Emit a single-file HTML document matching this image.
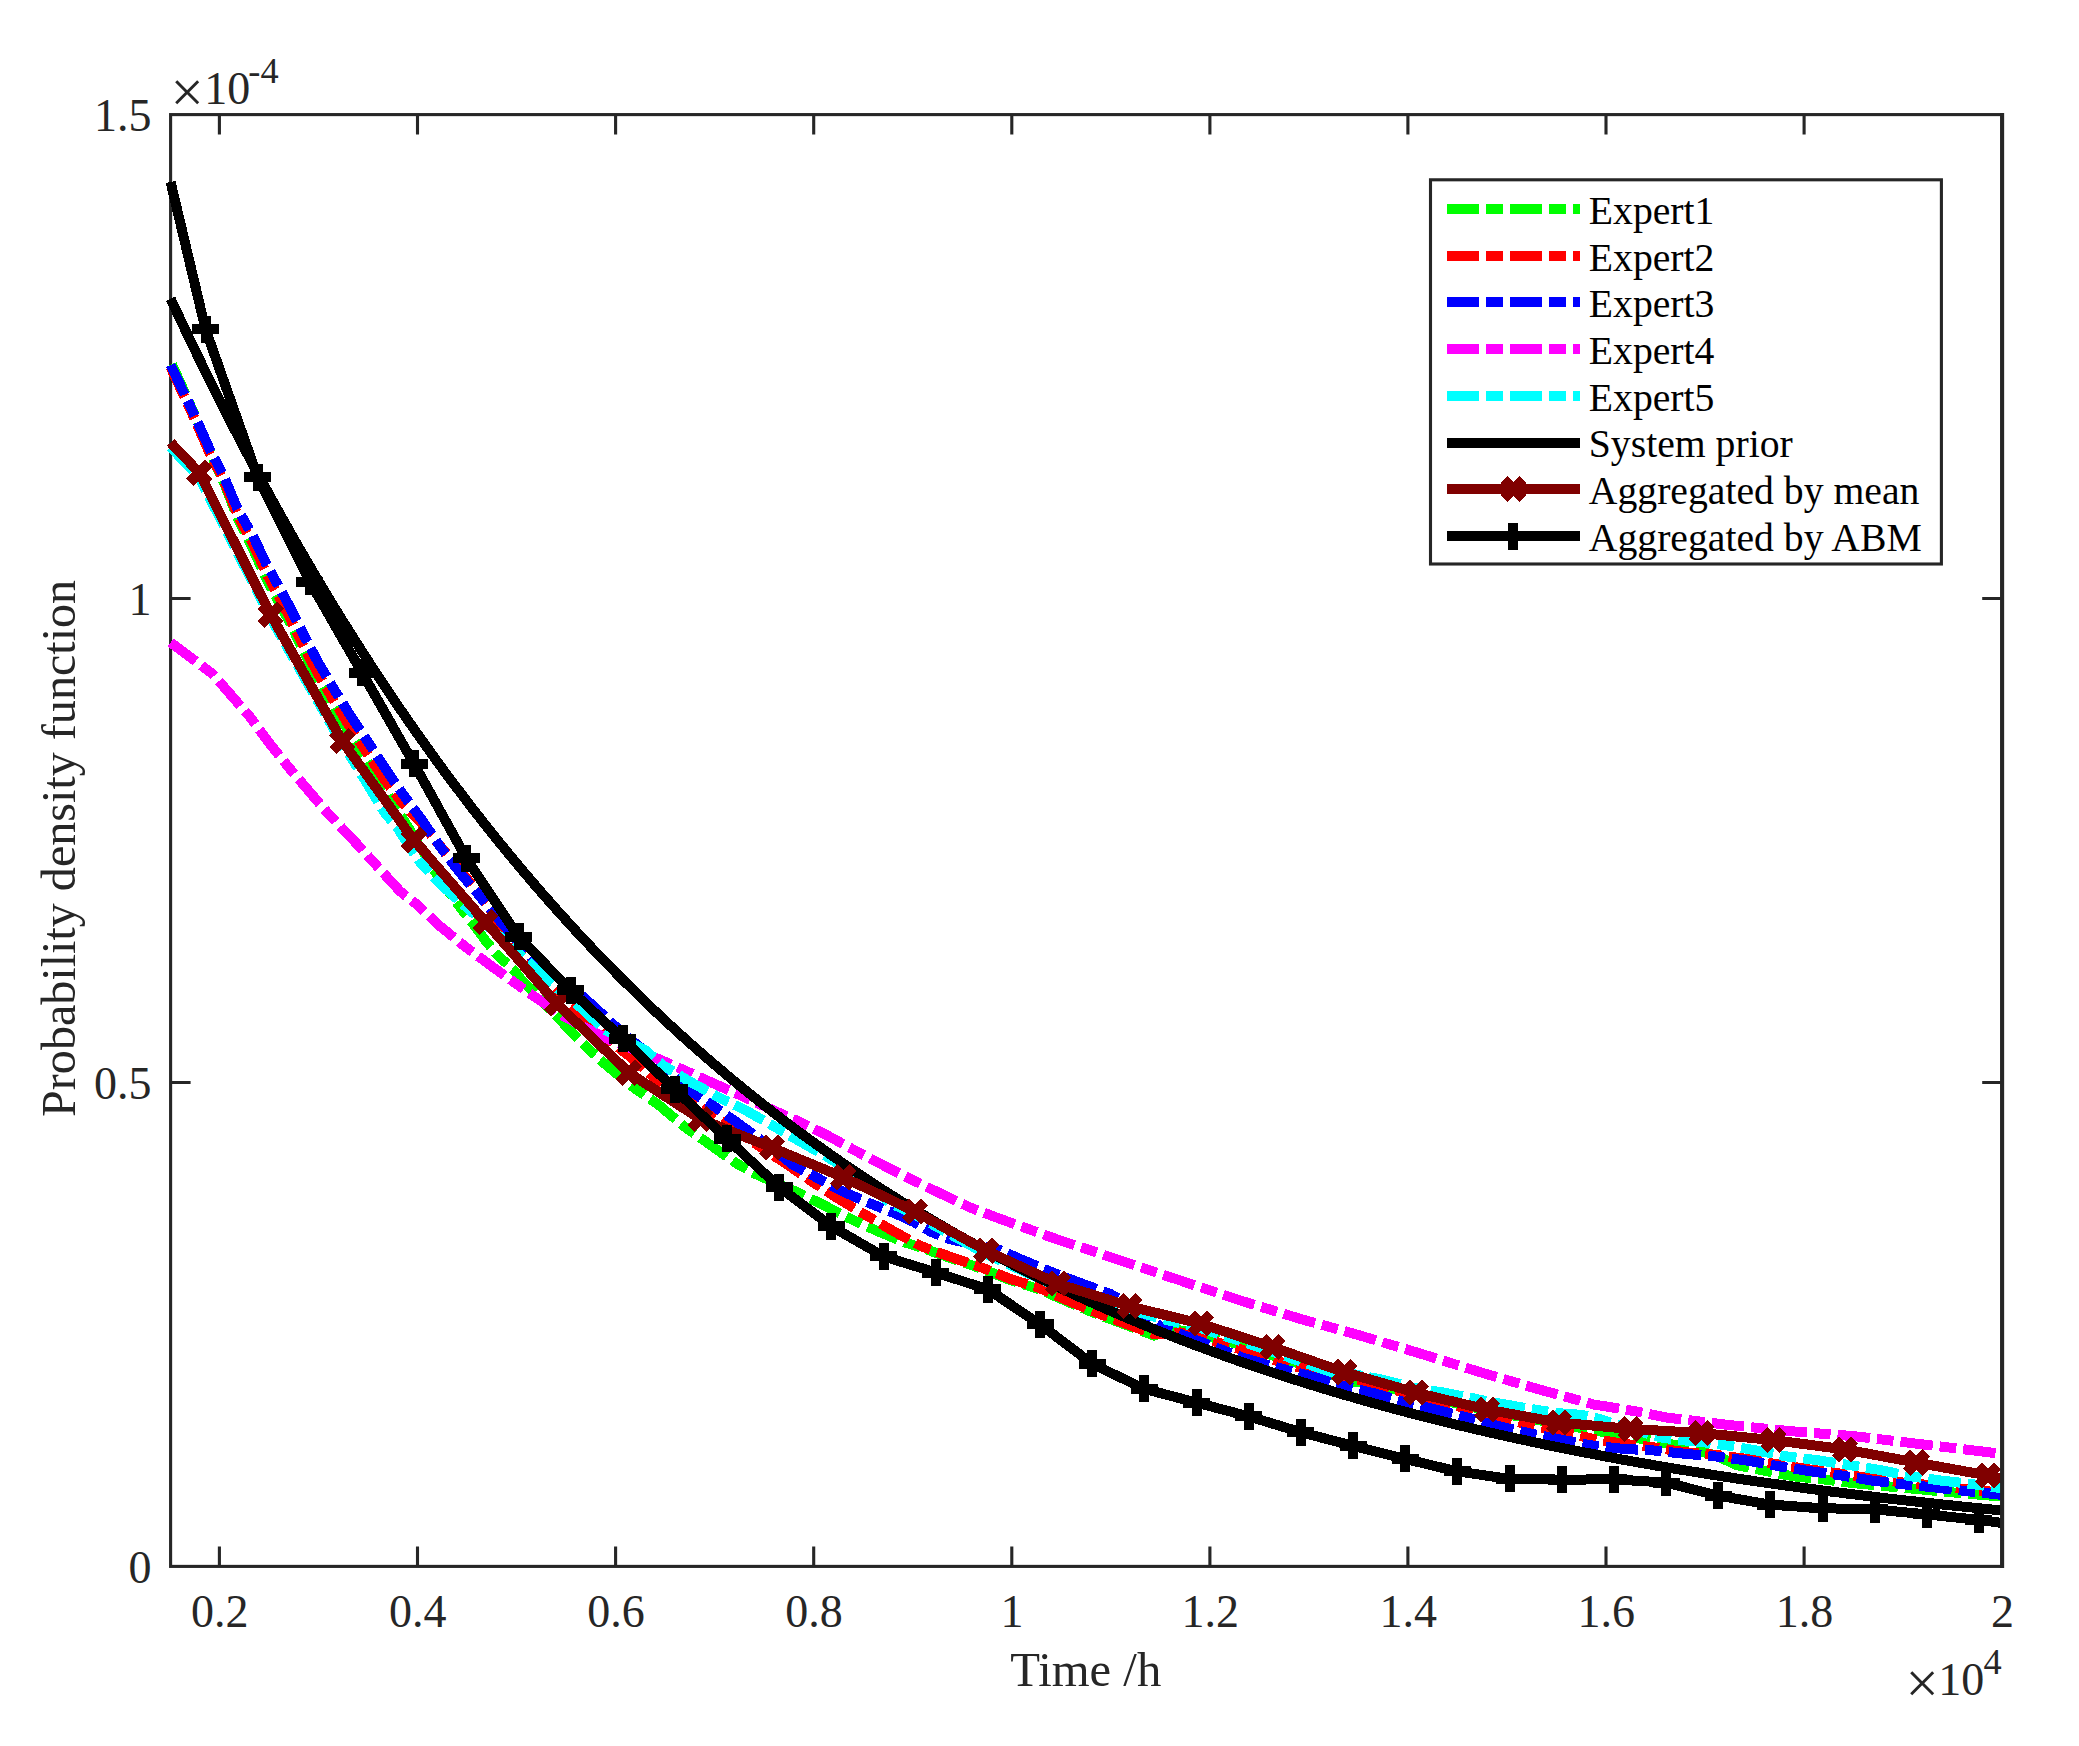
<!DOCTYPE html>
<html lang="en"><head><meta charset="utf-8"><title>Probability density function</title>
<style>html,body{margin:0;padding:0;background:#fff}svg{display:block}text{font-family:"Liberation Serif","Times New Roman",serif;fill:#262626}</style>
</head><body>
<svg width="2079" height="1746" viewBox="0 0 2079 1746">
<rect x="0" y="0" width="2079" height="1746" fill="#fff"/>
<g stroke="#262626" stroke-width="3.10" fill="none" stroke-linecap="butt">
<rect x="170.6" y="114.6" width="1831.6" height="1451.8"/>
<path d="M219.4 1566.4V1546.4M219.4 114.6V134.6"/>
<path d="M417.5 1566.4V1546.4M417.5 114.6V134.6"/>
<path d="M615.6 1566.4V1546.4M615.6 114.6V134.6"/>
<path d="M813.7 1566.4V1546.4M813.7 114.6V134.6"/>
<path d="M1011.8 1566.4V1546.4M1011.8 114.6V134.6"/>
<path d="M1209.9 1566.4V1546.4M1209.9 114.6V134.6"/>
<path d="M1407.9 1566.4V1546.4M1407.9 114.6V134.6"/>
<path d="M1606.0 1566.4V1546.4M1606.0 114.6V134.6"/>
<path d="M1804.1 1566.4V1546.4M1804.1 114.6V134.6"/>
<path d="M170.6 1082.5H190.6M2002.2 1082.5H1982.2"/>
<path d="M170.6 598.5H190.6M2002.2 598.5H1982.2"/>
</g>
<g shape-rendering="crispEdges">
<path d="M170.6 361.5L183.8 390.6L190.6 405.8L196.9 420.2L210.0 452.4L217.5 468.2L224.4 483.4L237.5 517.8L244.8 532.7L252.5 547.7L266.2 578.5L273.1 591.2L288.8 620.6L303.1 649.9L317.5 678.1L333.8 706.4L350.0 733.7L367.5 761.1L383.8 787.2L402.5 818.3L421.2 848.2L439.4 878.9L458.8 905.4L478.8 931.3L485.0 940.0L497.5 955.0L515.0 971.2L520.6 978.8L565.0 1025.0L586.2 1046.9L607.5 1066.2L634.4 1088.1L658.8 1105.0L683.8 1126.2L708.8 1143.8L735.0 1162.5L755.0 1173.8L795.0 1191.2L821.2 1203.8L848.8 1218.1L877.5 1231.2L905.0 1242.5L921.2 1247.5L950.6 1258.1L980.0 1268.1L1010.0 1280.0L1039.4 1289.3L1069.4 1302.5L1097.5 1314.3L1126.2 1325.0L1154.0 1335.6L1180.0 1330.4L1200.0 1334.0L1237.5 1344.1L1280.0 1357.9L1315.0 1368.0L1347.5 1380.7L1376.0 1384.5L1420.0 1395.0L1487.0 1410.5L1559.0 1424.0L1600.0 1431.5L1622.5 1436.0L1650.0 1440.0L1685.0 1447.0L1716.0 1455.5L1736.2 1465.0L1761.2 1470.0L1792.5 1476.2L1823.8 1479.5L1855.0 1483.3L1886.0 1486.2L1917.0 1489.0L1948.0 1492.0L1980.0 1494.8L2002.2 1496.5" pathLength="2305.1" fill="none" stroke="#00ff00" stroke-width="10.00" stroke-dasharray="32.5 7 16.5 7" stroke-dashoffset="-3.0" stroke-linejoin="round"/>
<path d="M170.6 367.3L183.8 395.4L190.6 410.1L196.9 424.0L210.0 454.0L217.5 468.3L224.4 482.1L237.5 514.9L244.8 528.9L252.5 542.8L266.2 572.9L273.1 585.9L288.8 615.7L303.1 645.3L317.5 673.0L333.8 700.7L350.0 727.2L367.5 753.7L383.8 778.9L402.5 803.1L421.2 823.0L439.4 845.1L458.8 868.6L478.8 893.1L500.0 923.0L537.5 970.0L560.0 995.0L587.5 1021.2L620.0 1048.8L631.2 1057.5L651.2 1075.0L660.0 1082.5L692.5 1100.0L702.5 1107.5L712.5 1115.0L750.0 1140.0L788.8 1165.6L812.5 1181.9L839.4 1199.4L865.6 1215.0L893.4 1231.2L921.2 1246.2L950.6 1256.9L980.0 1266.9L1010.0 1278.8L1039.4 1288.1L1069.4 1301.2L1097.5 1313.1L1126.2 1323.8L1154.0 1334.4L1180.0 1332.4L1200.0 1337.0L1237.5 1348.3L1280.0 1361.9L1315.0 1372.0L1347.5 1377.0L1376.2 1384.3L1406.2 1393.5L1437.5 1401.1L1467.5 1408.8L1498.8 1417.6L1528.8 1424.7L1560.0 1431.7L1591.2 1438.4L1622.5 1443.7L1653.8 1447.4L1685.0 1452.2L1716.2 1454.9L1747.5 1459.0L1778.8 1464.6L1810.0 1469.5L1841.9 1473.8L1872.5 1478.8L1903.8 1482.6L1935.0 1485.6L1966.9 1489.3L1992.5 1491.8L2002.2 1493.0" pathLength="2290.9" fill="none" stroke="#ff0000" stroke-width="10.00" stroke-dasharray="32.5 7 16.5 7" stroke-dashoffset="0.0" stroke-linejoin="round"/>
<path d="M170.6 365.0L183.8 392.5L190.6 406.9L196.9 420.6L210.0 450.0L217.5 464.0L224.4 477.5L237.5 508.8L244.8 521.9L252.5 535.0L266.2 563.8L273.1 576.2L288.8 605.0L303.1 633.8L317.5 661.2L333.8 688.8L350.0 715.0L367.5 741.2L383.8 766.2L402.5 793.8L421.2 818.8L439.4 845.6L458.8 871.2L478.8 895.0L500.0 921.0L520.0 944.0L537.5 964.0L550.0 976.5L570.0 985.5L593.8 1006.4L612.5 1023.7L623.0 1033.4L645.0 1051.0L668.8 1072.0L696.2 1095.0L713.8 1106.2L738.8 1123.8L765.0 1143.0L792.5 1164.5L817.5 1178.0L845.0 1192.5L873.8 1205.0L897.5 1214.5L913.8 1222.0L931.2 1231.9L948.8 1238.8L975.0 1245.0L998.8 1249.5L1022.5 1260.0L1052.5 1272.5L1082.5 1283.8L1110.0 1293.8L1128.0 1304.0L1146.0 1317.0L1160.0 1326.0L1200.0 1341.5L1243.8 1358.1L1280.0 1368.2L1315.6 1377.5L1347.5 1387.0L1376.2 1393.8L1406.2 1402.5L1437.5 1410.0L1467.5 1417.5L1498.8 1426.2L1528.8 1433.1L1560.0 1439.4L1591.2 1445.3L1622.5 1448.8L1653.8 1450.5L1685.0 1453.8L1716.2 1456.5L1747.5 1460.6L1778.8 1466.2L1810.0 1471.2L1841.9 1475.6L1872.5 1480.6L1903.8 1484.4L1935.0 1487.5L1966.9 1491.2L1992.5 1493.8L2002.2 1495.0" pathLength="2288.0" fill="none" stroke="#0000ff" stroke-width="10.00" stroke-dasharray="32.5 7 16.5 7" stroke-dashoffset="0.0" stroke-linejoin="round"/>
<path d="M170.6 642.5L212.5 673.8L250.0 716.9L268.8 742.5L288.8 767.5L325.0 810.0L362.6 850.0L386.2 876.2L400.0 891.2L417.5 905.0L440.0 926.2L466.2 947.5L490.0 965.0L516.2 983.8L537.5 998.8L565.0 1017.0L590.0 1030.0L610.0 1040.0L630.0 1048.0L661.0 1060.0L685.0 1070.6L714.4 1083.8L742.5 1096.2L772.5 1110.0L801.2 1122.5L828.8 1136.2L856.2 1151.2L885.0 1166.2L912.5 1180.0L941.2 1193.8L970.0 1207.5L1000.0 1218.8L1029.4 1229.4L1058.8 1240.0L1089.4 1250.0L1118.8 1260.0L1178.8 1280.0L1238.8 1300.0L1300.0 1318.8L1356.0 1334.3L1421.2 1353.8L1481.2 1372.5L1541.2 1390.0L1593.8 1404.5L1635.0 1411.2L1666.2 1417.5L1697.5 1421.2L1728.8 1425.0L1760.0 1428.1L1791.2 1431.2L1823.0 1433.8L1854.4 1436.2L1886.2 1440.0L1917.5 1443.8L1948.8 1447.5L1980.0 1451.2L2002.2 1454.0" pathLength="2054.0" fill="none" stroke="#ff00ff" stroke-width="10.00" stroke-dasharray="32.5 7 16.5 7" stroke-dashoffset="1.2" stroke-linejoin="round"/>
<path d="M170.6 447.0L185.0 462.4L199.3 477.7L215.0 508.3L235.0 547.5L255.0 587.1L270.1 617.0L290.0 652.2L310.0 687.3L330.0 722.5L342.0 743.6L355.0 763.7L370.0 788.5L384.0 811.7L398.8 829.8L410.0 847.5L421.0 863.2L441.0 884.6L465.0 906.0L485.0 923.4L510.0 946.0L537.5 970.4L555.0 986.5L580.0 1006.9L592.5 1018.5L605.0 1029.9L645.0 1050.0L662.5 1065.0L687.0 1080.0L718.0 1097.0L745.0 1110.0L773.8 1126.2L797.5 1140.0L827.5 1157.0L856.2 1175.0L890.0 1202.8L914.7 1214.7L950.0 1234.0L987.0 1254.3L1020.0 1269.6L1058.0 1287.1L1095.0 1298.8L1130.0 1309.7L1145.0 1314.0L1160.0 1318.3L1200.6 1328.2L1240.0 1341.0L1272.7 1351.7L1310.0 1364.7L1330.0 1371.7L1343.9 1372.4L1380.0 1379.2L1415.2 1388.1L1430.0 1390.5L1443.8 1392.5L1475.0 1398.7L1487.5 1401.5L1508.8 1405.1L1537.5 1410.0L1559.3 1413.3L1568.8 1413.8L1582.5 1415.1L1598.8 1418.8L1615.0 1424.0L1630.0 1428.9L1645.0 1433.0L1661.2 1437.5L1680.0 1440.0L1701.4 1442.0L1723.8 1444.9L1753.8 1450.0L1773.2 1453.6L1785.0 1456.2L1816.2 1460.0L1848.8 1465.0L1880.0 1470.0L1910.0 1476.2L1941.2 1480.6L1970.0 1483.8L1996.2 1487.5L2002.2 1488.5" pathLength="2216.2" fill="none" stroke="#00ffff" stroke-width="10.00" stroke-dasharray="32.5 7 16.5 7" stroke-dashoffset="0.0" stroke-linejoin="round"/>
<polyline points="170.6,298.7 179.8,318.3 188.9,337.6 198.1,356.6 207.2,375.4 216.4,393.8 225.5,412.0 234.7,429.8 243.9,447.4 253.0,464.8 262.2,481.8 271.3,498.6 280.5,515.1 289.7,531.4 298.8,547.4 308.0,563.2 317.1,578.8 326.3,594.1 335.4,609.1 344.6,623.9 353.8,638.5 362.9,652.9 372.1,667.0 381.2,681.0 390.4,694.7 399.6,708.2 408.7,721.5 417.9,734.5 427.0,747.4 436.2,760.1 445.3,772.6 454.5,784.9 463.7,797.0 472.8,808.9 482.0,820.6 491.1,832.2 500.3,843.5 509.4,854.7 518.6,865.7 527.8,876.6 536.9,887.3 546.1,897.8 555.2,908.1 564.4,918.3 573.6,928.4 582.7,938.2 591.9,948.0 601.0,957.5 610.2,967.0 619.3,976.3 628.5,985.4 637.7,994.4 646.8,1003.2 656.0,1012.0 665.1,1020.6 674.3,1029.0 683.4,1037.3 692.6,1045.5 701.8,1053.6 710.9,1061.5 720.1,1069.3 729.2,1077.0 738.4,1084.6 747.6,1092.1 756.7,1099.4 765.9,1106.6 775.0,1113.8 784.2,1120.8 793.3,1127.7 802.5,1134.5 811.7,1141.2 820.8,1147.7 830.0,1154.2 839.1,1160.6 848.3,1166.9 857.5,1173.1 866.6,1179.2 875.8,1185.2 884.9,1191.1 894.1,1196.9 903.2,1202.6 912.4,1208.2 921.6,1213.8 930.7,1219.2 939.9,1224.6 949.0,1229.9 958.2,1235.1 967.3,1240.2 976.5,1245.3 985.7,1250.3 994.8,1255.2 1004.0,1260.0 1013.1,1264.7 1022.3,1269.4 1031.5,1274.0 1040.6,1278.5 1049.8,1283.0 1058.9,1287.4 1068.1,1291.7 1077.2,1295.9 1086.4,1300.1 1095.6,1304.3 1104.7,1308.3 1113.9,1312.3 1123.0,1316.2 1132.2,1320.1 1141.3,1323.9 1150.5,1327.7 1159.7,1331.4 1168.8,1335.0 1178.0,1338.6 1187.1,1342.1 1196.3,1345.6 1205.5,1349.0 1214.6,1352.4 1223.8,1355.7 1232.9,1359.0 1242.1,1362.2 1251.2,1365.3 1260.4,1368.4 1269.6,1371.5 1278.7,1374.5 1287.9,1377.5 1297.0,1380.4 1306.2,1383.3 1315.3,1386.1 1324.5,1388.9 1333.7,1391.7 1342.8,1394.4 1352.0,1397.0 1361.1,1399.7 1370.3,1402.3 1379.5,1404.8 1388.6,1407.3 1397.8,1409.8 1406.9,1412.2 1416.1,1414.6 1425.2,1416.9 1434.4,1419.2 1443.6,1421.5 1452.7,1423.8 1461.9,1426.0 1471.0,1428.1 1480.2,1430.3 1489.4,1432.4 1498.5,1434.5 1507.7,1436.5 1516.8,1438.5 1526.0,1440.5 1535.1,1442.4 1544.3,1444.4 1553.5,1446.3 1562.6,1448.1 1571.8,1449.9 1580.9,1451.8 1590.1,1453.5 1599.2,1455.3 1608.4,1457.0 1617.6,1458.7 1626.7,1460.4 1635.9,1462.0 1645.0,1463.6 1654.2,1465.2 1663.4,1466.8 1672.5,1468.3 1681.7,1469.8 1690.8,1471.3 1700.0,1472.8 1709.1,1474.3 1718.3,1475.7 1727.5,1477.1 1736.6,1478.5 1745.8,1479.8 1754.9,1481.2 1764.1,1482.5 1773.2,1483.8 1782.4,1485.1 1791.6,1486.3 1800.7,1487.6 1809.9,1488.8 1819.0,1490.0 1828.2,1491.2 1837.4,1492.3 1846.5,1493.5 1855.7,1494.6 1864.8,1495.7 1874.0,1496.8 1883.1,1497.9 1892.3,1499.0 1901.5,1500.0 1910.6,1501.0 1919.8,1502.0 1928.9,1503.0 1938.1,1504.0 1947.3,1505.0 1956.4,1505.9 1965.6,1506.9 1974.7,1507.8 1983.9,1508.7 1993.0,1509.6 2002.2,1510.5" fill="none" stroke="#000" stroke-width="10.00" stroke-linejoin="round"/>
<polyline points="170.6,442.5 199.3,472.7 270.9,615.0 342.4,741.3 413.9,840.1 485.5,922.0 557.0,1003.8 628.6,1072.6 700.1,1118.9 771.7,1147.6 843.2,1177.2 914.8,1211.4 986.3,1250.7 1057.9,1283.8 1129.5,1306.3 1201.0,1323.8 1272.5,1347.1 1344.1,1372.1 1415.6,1392.6 1487.2,1409.6 1558.8,1422.6 1630.3,1428.9 1701.8,1433.1 1773.4,1440.1 1844.9,1449.4 1916.5,1462.6 1988.0,1475.5 2002.2,1478.5" fill="none" stroke="#800000" stroke-width="10.00" stroke-linejoin="round"/>
<path d="M189.8 463.1l19.10 19.10M189.8 482.2l19.10 -19.10M261.3 605.5l19.10 19.10M261.3 624.5l19.10 -19.10M332.8 731.8l19.10 19.10M332.8 750.8l19.10 -19.10M404.4 830.6l19.10 19.10M404.4 849.6l19.10 -19.10M475.9 912.5l19.10 19.10M475.9 931.5l19.10 -19.10M547.5 994.2l19.10 19.10M547.5 1013.3l19.10 -19.10M619.0 1063.0l19.10 19.10M619.0 1082.1l19.10 -19.10M690.6 1109.4l19.10 19.10M690.6 1128.5l19.10 -19.10M762.2 1138.0l19.10 19.10M762.2 1157.1l19.10 -19.10M833.7 1167.7l19.10 19.10M833.7 1186.8l19.10 -19.10M905.2 1201.9l19.10 19.10M905.2 1221.0l19.10 -19.10M976.8 1241.2l19.10 19.10M976.8 1260.2l19.10 -19.10M1048.3 1274.2l19.10 19.10M1048.3 1293.3l19.10 -19.10M1119.9 1296.8l19.10 19.10M1119.9 1315.8l19.10 -19.10M1191.5 1314.2l19.10 19.10M1191.5 1333.3l19.10 -19.10M1263.0 1337.5l19.10 19.10M1263.0 1356.6l19.10 -19.10M1334.5 1362.5l19.10 19.10M1334.5 1381.6l19.10 -19.10M1406.1 1383.0l19.10 19.10M1406.1 1402.1l19.10 -19.10M1477.6 1400.0l19.10 19.10M1477.6 1419.1l19.10 -19.10M1549.2 1413.0l19.10 19.10M1549.2 1432.1l19.10 -19.10M1620.8 1419.4l19.10 19.10M1620.8 1438.5l19.10 -19.10M1692.3 1423.5l19.10 19.10M1692.3 1442.6l19.10 -19.10M1763.8 1430.5l19.10 19.10M1763.8 1449.6l19.10 -19.10M1835.4 1439.9l19.10 19.10M1835.4 1459.0l19.10 -19.10M1906.9 1453.0l19.10 19.10M1906.9 1472.1l19.10 -19.10M1978.5 1466.0l19.10 19.10M1978.5 1485.0l19.10 -19.10" fill="none" stroke="#800000" stroke-width="10.00"/>
<polyline points="170.6,182.0 205.5,329.1 257.7,477.2 309.8,581.8 362.0,672.6 414.1,763.9 466.3,858.2 518.5,936.7 570.6,990.4 622.8,1038.8 674.9,1089.4 727.1,1138.9 779.3,1187.2 831.4,1226.4 883.6,1256.4 935.7,1272.5 987.9,1289.4 1040.1,1324.3 1092.2,1363.9 1144.4,1388.9 1196.5,1402.6 1248.7,1416.4 1300.9,1432.2 1353.0,1445.9 1405.2,1458.9 1457.3,1471.4 1509.5,1478.9 1561.7,1479.6 1613.8,1479.4 1666.0,1482.5 1718.1,1495.6 1770.3,1504.7 1822.5,1508.2 1874.6,1509.4 1926.8,1514.4 1978.9,1519.9 2002.2,1523.0" fill="none" stroke="#000" stroke-width="10.00" stroke-linejoin="round"/>
<path d="M192.0 329.1h27.0M205.5 315.6v27.0M244.2 477.2h27.0M257.7 463.7v27.0M296.3 581.8h27.0M309.8 568.3v27.0M348.5 672.6h27.0M362.0 659.1v27.0M400.6 763.9h27.0M414.1 750.4v27.0M452.8 858.2h27.0M466.3 844.7v27.0M505.0 936.7h27.0M518.5 923.2v27.0M557.1 990.4h27.0M570.6 976.9v27.0M609.3 1038.8h27.0M622.8 1025.3v27.0M661.4 1089.4h27.0M674.9 1075.9v27.0M713.6 1138.9h27.0M727.1 1125.4v27.0M765.8 1187.2h27.0M779.3 1173.7v27.0M817.9 1226.4h27.0M831.4 1212.9v27.0M870.1 1256.4h27.0M883.6 1242.9v27.0M922.2 1272.5h27.0M935.7 1259.0v27.0M974.4 1289.4h27.0M987.9 1275.9v27.0M1026.6 1324.3h27.0M1040.1 1310.8v27.0M1078.7 1363.9h27.0M1092.2 1350.4v27.0M1130.9 1388.9h27.0M1144.4 1375.4v27.0M1183.0 1402.6h27.0M1196.5 1389.1v27.0M1235.2 1416.4h27.0M1248.7 1402.9v27.0M1287.4 1432.2h27.0M1300.9 1418.7v27.0M1339.5 1445.9h27.0M1353.0 1432.4v27.0M1391.7 1458.9h27.0M1405.2 1445.4v27.0M1443.8 1471.4h27.0M1457.3 1457.9v27.0M1496.0 1478.9h27.0M1509.5 1465.4v27.0M1548.2 1479.6h27.0M1561.7 1466.1v27.0M1600.3 1479.4h27.0M1613.8 1465.9v27.0M1652.5 1482.5h27.0M1666.0 1469.0v27.0M1704.6 1495.6h27.0M1718.1 1482.1v27.0M1756.8 1504.7h27.0M1770.3 1491.2v27.0M1809.0 1508.2h27.0M1822.5 1494.7v27.0M1861.1 1509.4h27.0M1874.6 1495.9v27.0M1913.3 1514.4h27.0M1926.8 1500.9v27.0M1965.4 1519.9h27.0M1978.9 1506.4v27.0" fill="none" stroke="#000" stroke-width="10.00"/>
</g>
<path d="M2002.1 113.0V1568.0" stroke="#262626" stroke-width="4.10" fill="none"/>
<g font-size="46" text-anchor="middle">
<text x="219.8" y="1626.5">0.2</text>
<text x="417.8" y="1626.5">0.4</text>
<text x="615.9" y="1626.5">0.6</text>
<text x="814.0" y="1626.5">0.8</text>
<text x="1012.1" y="1626.5">1</text>
<text x="1210.2" y="1626.5">1.2</text>
<text x="1408.2" y="1626.5">1.4</text>
<text x="1606.3" y="1626.5">1.6</text>
<text x="1804.4" y="1626.5">1.8</text>
<text x="2002.5" y="1626.5">2</text>
</g>
<g font-size="46" text-anchor="end">
<text x="151.6" y="1582.5">0</text>
<text x="151.6" y="1098.6">0.5</text>
<text x="151.6" y="614.6">1</text>
<text x="151.6" y="130.7">1.5</text>
</g>
<text x="170.6" y="112.4" font-size="59">×</text>
<text x="204.2" y="103.9" font-size="46">10</text>
<text x="248.3" y="82.9" font-size="36.4">-4</text>
<text x="1905.4" y="1703.4" font-size="59">×</text>
<text x="1938.2" y="1695" font-size="46">10</text>
<text x="1983.4" y="1673.9" font-size="36.4">4</text>
<text x="1085.7" y="1686.4" font-size="48.7" text-anchor="middle">Time /h</text>
<text transform="translate(75.3 848.4) rotate(-90)" font-size="48.1" text-anchor="middle">Probability density function</text>
<rect x="1430.5" y="179.8" width="510.9" height="384.2" fill="#fff" stroke="#262626" stroke-width="3.10"/>
<g font-size="39.7" style="fill:#000">
<path shape-rendering="crispEdges" d="M1446.9 209.0H1579.9" stroke="#00ff00" stroke-width="10.00" fill="none" stroke-dasharray="32.5 7 16.5 7"/>
<text x="1588.8" y="223.9" style="fill:#000">Expert1</text>
<path shape-rendering="crispEdges" d="M1446.9 255.7H1579.9" stroke="#ff0000" stroke-width="10.00" fill="none" stroke-dasharray="32.5 7 16.5 7"/>
<text x="1588.8" y="270.6" style="fill:#000">Expert2</text>
<path shape-rendering="crispEdges" d="M1446.9 302.4H1579.9" stroke="#0000ff" stroke-width="10.00" fill="none" stroke-dasharray="32.5 7 16.5 7"/>
<text x="1588.8" y="317.3" style="fill:#000">Expert3</text>
<path shape-rendering="crispEdges" d="M1446.9 349.1H1579.9" stroke="#ff00ff" stroke-width="10.00" fill="none" stroke-dasharray="32.5 7 16.5 7"/>
<text x="1588.8" y="364.0" style="fill:#000">Expert4</text>
<path shape-rendering="crispEdges" d="M1446.9 395.8H1579.9" stroke="#00ffff" stroke-width="10.00" fill="none" stroke-dasharray="32.5 7 16.5 7"/>
<text x="1588.8" y="410.7" style="fill:#000">Expert5</text>
<path shape-rendering="crispEdges" d="M1446.9 442.6H1579.9" stroke="#000" stroke-width="10.00" fill="none"/>
<text x="1588.8" y="457.4" style="fill:#000">System prior</text>
<path shape-rendering="crispEdges" d="M1446.9 489.3H1579.9" stroke="#800000" stroke-width="10.00" fill="none"/>
<path shape-rendering="crispEdges" d="M1503.9 479.7l19.10 19.10M1503.9 498.8l19.10 -19.10" stroke="#800000" stroke-width="10.00" fill="none"/>
<text x="1588.8" y="504.2" style="fill:#000">Aggregated by mean</text>
<path shape-rendering="crispEdges" d="M1446.9 536.0H1579.9" stroke="#000" stroke-width="10.00" fill="none"/>
<path shape-rendering="crispEdges" d="M1499.9 536.0h27.0M1513.4 522.5v27.0" stroke="#000" stroke-width="10.00" fill="none"/>
<text x="1588.8" y="550.9" style="fill:#000">Aggregated by ABM</text>
</g>
</svg></body></html>
